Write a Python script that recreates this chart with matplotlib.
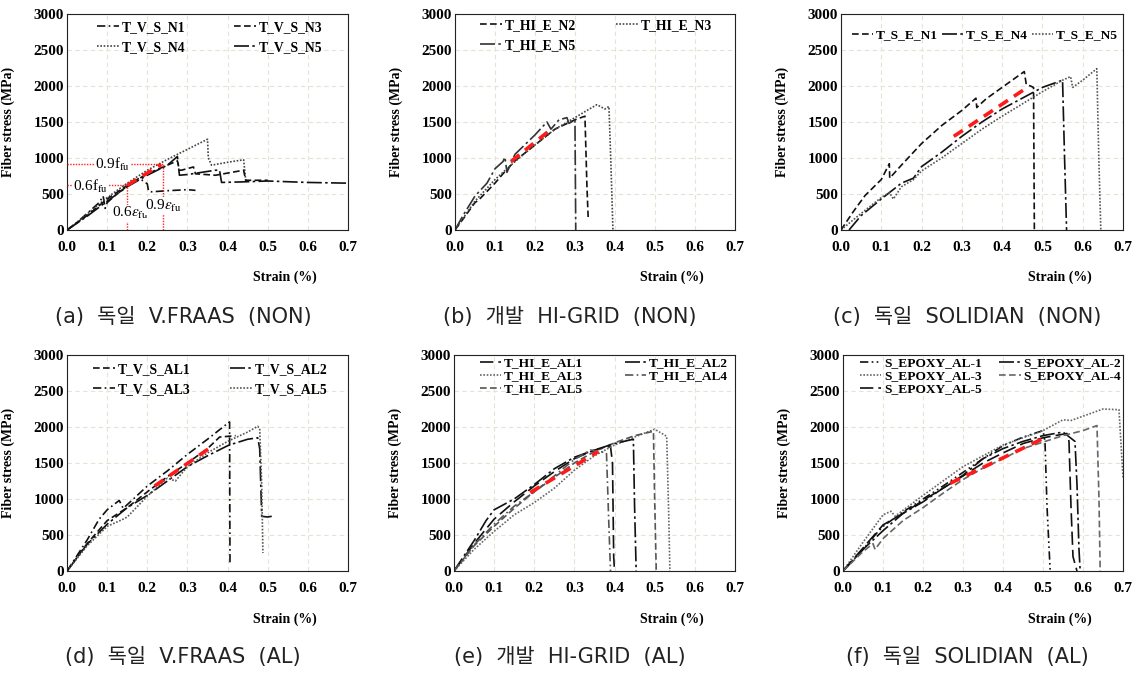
import matplotlib
matplotlib.use("Agg")
import matplotlib.pyplot as plt

plt.rcParams['mathtext.fontset'] = 'stix'

# ---------------- data ----------------
# (a) V.FRAAS NON
a_n1_x = [0, 0.02, 0.05, 0.08, 0.09, 0.095, 0.1, 0.12, 0.15, 0.18, 0.2, 0.203, 0.21, 0.25, 0.3, 0.32]
a_n1_y = [0, 80, 230, 380, 470, 300, 380, 480, 610, 720, 640, 540, 530, 545, 560, 550]
a_n3_x = [0, 0.05, 0.1, 0.15, 0.2, 0.25, 0.275, 0.28, 0.285, 0.315, 0.32, 0.37, 0.44, 0.445, 0.5]
a_n3_y = [0, 200, 430, 620, 780, 900, 960, 830, 830, 875, 780, 760, 830, 690, 690]
a_n4_x = [0, 0.05, 0.1, 0.15, 0.2, 0.25, 0.3, 0.35, 0.352, 0.36, 0.4, 0.44, 0.445]
a_n4_y = [0, 220, 450, 650, 830, 980, 1120, 1260, 1000, 900, 940, 975, 700]
a_n5_x = [0, 0.05, 0.1, 0.15, 0.2, 0.25, 0.275, 0.28, 0.3, 0.37, 0.38, 0.385, 0.45, 0.5, 0.6, 0.7]
a_n5_y = [0, 190, 400, 600, 760, 900, 1020, 760, 770, 830, 830, 660, 670, 680, 660, 650]
a_fit_x = [0.15, 0.235]
a_fit_y = [620, 910]

# (b) HI-GRID NON
b_n2_x = [0, 0.02, 0.05, 0.06, 0.1, 0.12, 0.15, 0.2, 0.25, 0.3, 0.325, 0.33, 0.333]
b_n2_y = [0, 150, 380, 420, 650, 780, 960, 1180, 1400, 1530, 1580, 600, 180]
b_n3_x = [0, 0.05, 0.1, 0.15, 0.2, 0.25, 0.3, 0.33, 0.355, 0.375, 0.385, 0.39, 0.395]
b_n3_y = [0, 400, 700, 950, 1180, 1400, 1560, 1660, 1740, 1680, 1715, 900, 0]
b_n5_x = [0, 0.02, 0.05, 0.08, 0.1, 0.12, 0.125, 0.13, 0.15, 0.2, 0.23, 0.24, 0.26, 0.28, 0.285, 0.3, 0.302]
b_n5_y = [0, 200, 470, 650, 850, 950, 1010, 800, 1050, 1320, 1500, 1400, 1530, 1560, 1480, 1530, 0]
b_fit_x = [0.14, 0.245]
b_fit_y = [950, 1420]

# (c) SOLIDIAN NON
c_n1_x = [0, 0.03, 0.06, 0.1, 0.12, 0.121, 0.15, 0.2, 0.25, 0.3, 0.335, 0.337, 0.36, 0.4, 0.455, 0.46, 0.47, 0.478, 0.48]
c_n1_y = [0, 250, 480, 700, 920, 720, 900, 1200, 1450, 1660, 1830, 1700, 1820, 1980, 2200, 2020, 2000, 1980, 0]
c_n4_x = [0.02, 0.05, 0.1, 0.15, 0.18, 0.2, 0.25, 0.3, 0.35, 0.4, 0.45, 0.5, 0.55, 0.555, 0.56]
c_n4_y = [0, 200, 430, 650, 720, 880, 1080, 1300, 1500, 1680, 1830, 1980, 2080, 1000, 0]
c_n5_x = [0, 0.05, 0.1, 0.12, 0.13, 0.15, 0.18, 0.2, 0.25, 0.3, 0.35, 0.4, 0.45, 0.5, 0.55, 0.57, 0.575, 0.6, 0.635, 0.64, 0.645]
c_n5_y = [0, 230, 450, 520, 430, 600, 700, 820, 1000, 1200, 1400, 1580, 1750, 1920, 2080, 2130, 1980, 2080, 2240, 1000, 0]
c_fit_x = [0.28, 0.46]
c_fit_y = [1300, 1970]

# (d) V.FRAAS AL
d_al1_x = [0, 0.05, 0.1, 0.15, 0.2, 0.25, 0.3, 0.35, 0.38, 0.42]
d_al1_y = [0, 380, 700, 880, 1100, 1310, 1500, 1700, 1860, 1880]
d_al2_x = [0, 0.05, 0.1, 0.15, 0.2, 0.25, 0.3, 0.35, 0.4, 0.41, 0.45, 0.475, 0.48, 0.485, 0.5, 0.51]
d_al2_y = [0, 370, 650, 880, 1050, 1250, 1450, 1600, 1740, 1760, 1830, 1850, 1700, 760, 750, 760]
d_al3_x = [0, 0.05, 0.08, 0.1, 0.13, 0.14, 0.2, 0.25, 0.3, 0.35, 0.4, 0.405, 0.406]
d_al3_y = [0, 430, 720, 850, 980, 870, 1180, 1390, 1620, 1830, 2050, 2070, 80]
d_al5_x = [0, 0.05, 0.1, 0.14, 0.15, 0.2, 0.25, 0.27, 0.3, 0.35, 0.4, 0.45, 0.475, 0.48, 0.485, 0.488]
d_al5_y = [0, 350, 620, 720, 750, 1040, 1290, 1250, 1450, 1640, 1800, 1930, 2010, 1980, 1200, 250]
d_fit_x = [0.218, 0.363]
d_fit_y = [1180, 1736]

# (e) HI-GRID AL
e_al1_x = [0, 0.05, 0.1, 0.15, 0.2, 0.25, 0.3, 0.35, 0.39, 0.395, 0.398, 0.4]
e_al1_y = [0, 380, 720, 960, 1180, 1380, 1560, 1680, 1730, 1500, 200, 0]
e_al2_x = [0, 0.05, 0.08, 0.1, 0.15, 0.2, 0.25, 0.3, 0.35, 0.4, 0.447, 0.45, 0.454]
e_al2_y = [0, 420, 700, 850, 1000, 1200, 1420, 1580, 1680, 1770, 1830, 900, 0]
e_al3_x = [0, 0.05, 0.1, 0.15, 0.2, 0.25, 0.3, 0.35, 0.4, 0.45, 0.5, 0.53, 0.535, 0.538]
e_al3_y = [0, 300, 550, 780, 950, 1150, 1400, 1600, 1750, 1860, 1970, 1870, 800, 0]
e_al4_x = [0, 0.05, 0.1, 0.15, 0.2, 0.25, 0.3, 0.34, 0.38, 0.385, 0.39]
e_al4_y = [0, 360, 650, 900, 1100, 1320, 1550, 1680, 1640, 800, 0]
e_al5_x = [0, 0.05, 0.1, 0.15, 0.2, 0.25, 0.3, 0.35, 0.4, 0.45, 0.497, 0.5, 0.504]
e_al5_y = [0, 350, 620, 870, 1100, 1300, 1500, 1660, 1780, 1880, 1940, 1000, 0]
e_fit_x = [0.19, 0.36]
e_fit_y = [1090, 1660]

# (f) SOLIDIAN AL
f_al1_x = [0, 0.05, 0.08, 0.1, 0.15, 0.2, 0.25, 0.3, 0.35, 0.4, 0.45, 0.5, 0.505, 0.51, 0.518]
f_al1_y = [0, 300, 500, 620, 820, 1000, 1180, 1370, 1560, 1740, 1860, 1950, 1800, 900, 0]
f_al2_x = [0, 0.05, 0.1, 0.15, 0.2, 0.25, 0.3, 0.35, 0.4, 0.45, 0.5, 0.55, 0.58, 0.585, 0.59, 0.593]
f_al2_y = [0, 300, 560, 800, 960, 1150, 1330, 1560, 1700, 1800, 1880, 1930, 1800, 1200, 300, 0]
f_al3_x = [0, 0.05, 0.1, 0.12, 0.13, 0.2, 0.3, 0.4, 0.5, 0.55, 0.57, 0.6, 0.65, 0.69, 0.7]
f_al3_y = [0, 400, 780, 830, 760, 1050, 1450, 1750, 1950, 2100, 2090, 2150, 2250, 2240, 1300]
f_al4_x = [0, 0.05, 0.075, 0.08, 0.1, 0.15, 0.2, 0.25, 0.3, 0.35, 0.4, 0.45, 0.5, 0.55, 0.6, 0.635, 0.64, 0.643]
f_al4_y = [0, 270, 380, 300, 450, 700, 880, 1080, 1270, 1430, 1560, 1700, 1790, 1880, 1950, 2020, 1000, 0]
f_al5_x = [0, 0.05, 0.1, 0.15, 0.2, 0.25, 0.3, 0.35, 0.4, 0.45, 0.5, 0.56, 0.565, 0.57, 0.575, 0.585]
f_al5_y = [0, 320, 640, 800, 980, 1150, 1320, 1500, 1640, 1770, 1850, 1910, 1800, 900, 200, 0]
f_fit_x = [0.268, 0.51]
f_fit_y = [1218, 1866]

captions = ["(a)  독일  V.FRAAS  (NON)", "(b)  개발  HI-GRID  (NON)", "(c)  독일  SOLIDIAN  (NON)",
            "(d)  독일  V.FRAAS  (AL)", "(e)  개발  HI-GRID  (AL)", "(f)  독일  SOLIDIAN  (AL)"]

# ---------------- styles ----------------
DASH = (0, (4, 2))
DASHDOT = (0, (5, 2, 1, 2))
LDASHDOT = (0, (9, 2, 1.5, 2))
DOT = (0, (1, 1))
LDASH = (0, (8, 3))
DDOT = (0, (5, 2, 1, 2, 1, 2))

serif = 'Liberation Serif'

fig = plt.figure(figsize=(11.38, 6.74), dpi=100)

rects = [
    (0.0589, 0.6588, 0.2469, 0.3205),
    (0.3998, 0.6588, 0.2460, 0.3205),
    (0.7390, 0.6588, 0.2478, 0.3205),
    (0.0589, 0.1528, 0.2469, 0.3205),
    (0.3989, 0.1528, 0.2469, 0.3205),
    (0.7408, 0.1528, 0.2460, 0.3205),
]
cap_pos = [(183, 317), (570, 317), (967, 317), (183, 657), (570, 657), (967, 657)]

panels = [
    [(a_n1_x, a_n1_y, 'T_V_S_N1', DASHDOT, '#111111'),
     (a_n4_x, a_n4_y, 'T_V_S_N4', DOT, '#444444'),
     (a_n3_x, a_n3_y, 'T_V_S_N3', DASH, '#111111'),
     (a_n5_x, a_n5_y, 'T_V_S_N5', LDASHDOT, '#111111')],
    [(b_n2_x, b_n2_y, 'T_HI_E_N2', DASH, '#111111'),
     (b_n5_x, b_n5_y, 'T_HI_E_N5', LDASHDOT, '#333333'),
     (b_n3_x, b_n3_y, 'T_HI_E_N3', DOT, '#444444')],
    [(c_n1_x, c_n1_y, 'T_S_E_N1', DASH, '#111111'),
     (c_n4_x, c_n4_y, 'T_S_E_N4', LDASHDOT, '#111111'),
     (c_n5_x, c_n5_y, 'T_S_E_N5', DOT, '#555555')],
    [(d_al1_x, d_al1_y, 'T_V_S_AL1', DASH, '#111111'),
     (d_al3_x, d_al3_y, 'T_V_S_AL3', DASHDOT, '#111111'),
     (d_al2_x, d_al2_y, 'T_V_S_AL2', LDASHDOT, '#111111'),
     (d_al5_x, d_al5_y, 'T_V_S_AL5', DOT, '#555555')],
    [(e_al1_x, e_al1_y, 'T_HI_E_AL1', LDASH, '#111111'),
     (e_al3_x, e_al3_y, 'T_HI_E_AL3', DOT, '#666666'),
     (e_al5_x, e_al5_y, 'T_HI_E_AL5', DASH, '#555555'),
     (e_al2_x, e_al2_y, 'T_HI_E_AL2', LDASHDOT, '#111111'),
     (e_al4_x, e_al4_y, 'T_HI_E_AL4', DASHDOT, '#555555')],
    [(f_al1_x, f_al1_y, 'S_EPOXY_AL-1', DDOT, '#111111'),
     (f_al3_x, f_al3_y, 'S_EPOXY_AL-3', DOT, '#666666'),
     (f_al5_x, f_al5_y, 'S_EPOXY_AL-5', LDASH, '#111111'),
     (f_al2_x, f_al2_y, 'S_EPOXY_AL-2', LDASHDOT, '#111111'),
     (f_al4_x, f_al4_y, 'S_EPOXY_AL-4', DASH, '#666666')],
]
fits = [(a_fit_x, a_fit_y), (b_fit_x, b_fit_y), (c_fit_x, c_fit_y),
        (d_fit_x, d_fit_y), (e_fit_x, e_fit_y), (f_fit_x, f_fit_y)]
ncols = [2, 2, 3, 2, 2, 2]
leg_anchor = [(0.107, 0.968), (0.089, 0.977), (0.039, 0.93), (0.093, 0.963), (0.093, 0.99), (0.061, 0.99)]
leg_space = [0.5, 0.5, 0.5, 0.5, 0.05, 0.05]
col_space = [3.6, 3.0, 0.3, 2.9, 3.1, 1.3]
leg_size = [9.8, 9.8, 9.6, 9.8, 9.6, 9.6]

xticks = [0.0, 0.1, 0.2, 0.3, 0.4, 0.5, 0.6, 0.7]
yticks = [0, 500, 1000, 1500, 2000, 2500, 3000]

for i, rect in enumerate(rects):
    ax = fig.add_axes(rect)
    ax.set_xlim(0, 0.7)
    ax.set_ylim(0, 3000)
    ax.set_xticks(xticks)
    ax.set_xticklabels([f"{t:.1f}" for t in xticks])
    ax.set_yticks(yticks)
    ax.set_yticklabels([str(t) for t in yticks])
    for lab in ax.get_xticklabels() + ax.get_yticklabels():
        lab.set_fontfamily(serif)
        lab.set_fontweight('bold')
        lab.set_fontsize(11)
    ax.tick_params(axis='x', length=0, pad=8)
    ax.tick_params(axis='y', length=0, pad=2)
    ax.grid(True, color='#e6e2d6', linestyle=(0, (4, 3)), linewidth=0.8)
    ax.set_axisbelow(True)
    for s in ax.spines.values():
        s.set_linewidth(0.8)
        s.set_color('#222222')
    handles = []
    for (x, y, lab, ls, col) in panels[i]:
        h, = ax.plot(x, y, linestyle=ls, color=col, linewidth=1.2, label=lab)
        handles.append(h)
    fx, fy = fits[i]
    ax.plot(fx, fy, linestyle=(0, (3, 2)), color='#ff1a1a', linewidth=2.6, zorder=5)
    leg = ax.legend(handles=handles, loc='upper left', bbox_to_anchor=leg_anchor[i], ncol=ncols[i],
                    frameon=False, handlelength=1.6, handletextpad=0.2, columnspacing=col_space[i],
                    labelspacing=leg_space[i], borderaxespad=0.0, borderpad=0.0,
                    prop={'family': serif, 'weight': 'bold', 'size': leg_size[i]})
    ax.set_ylabel('Fiber stress (MPa)', fontfamily=serif, fontweight='bold', fontsize=10)
    ax.yaxis.set_label_coords(-0.185, 0.5)
    ax.set_xlabel('Strain (%)', fontfamily=serif, fontweight='bold', fontsize=10)
    ax.xaxis.set_label_coords(0.776, -0.19)
    cx, cy = cap_pos[i]
    fig.text(cx / 1138, 1 - cy / 674, captions[i], ha='center', va='center',
             fontfamily=['DejaVu Sans', 'Noto Sans CJK KR'], fontsize=15, color='#222222')

    if i == 0:
        red = '#ff2020'
        ax.plot([0, a_fit_x[1] + 0.003], [a_fit_y[1], a_fit_y[1]], linestyle=(0, (1, 1)), color=red, lw=1.0, zorder=3)
        ax.plot([a_fit_x[1] + 0.003] * 2, [0, a_fit_y[1]], linestyle=(0, (1, 1)), color=red, lw=1.0, zorder=3)
        ax.plot([0, a_fit_x[0]], [a_fit_y[0], a_fit_y[0]], linestyle=(0, (1, 1)), color=red, lw=1.0, zorder=3)
        ax.plot([a_fit_x[0]] * 2, [0, a_fit_y[0]], linestyle=(0, (1, 1)), color=red, lw=1.0, zorder=3)
        bb = dict(facecolor='white', edgecolor='none', pad=0.5)
        ax.text(0.114, 905, r'0.9f$_{\mathrm{fu}}$', fontsize=11, fontfamily=serif, ha='center', va='center', bbox=bb, zorder=6)
        ax.text(0.058, 600, r'0.6f$_{\mathrm{fu}}$', fontsize=11, fontfamily=serif, ha='center', va='center', bbox=bb, zorder=6)
        ax.text(0.158, 230, r'0.6$\varepsilon_{\mathrm{fu}}$', fontsize=11, fontfamily=serif, ha='center', va='center', bbox=bb, zorder=6)
        ax.text(0.24, 330, r'0.9$\varepsilon_{\mathrm{fu}}$', fontsize=11, fontfamily=serif, ha='center', va='center', bbox=bb, zorder=6)

fig.savefig('out.png', dpi=100)
